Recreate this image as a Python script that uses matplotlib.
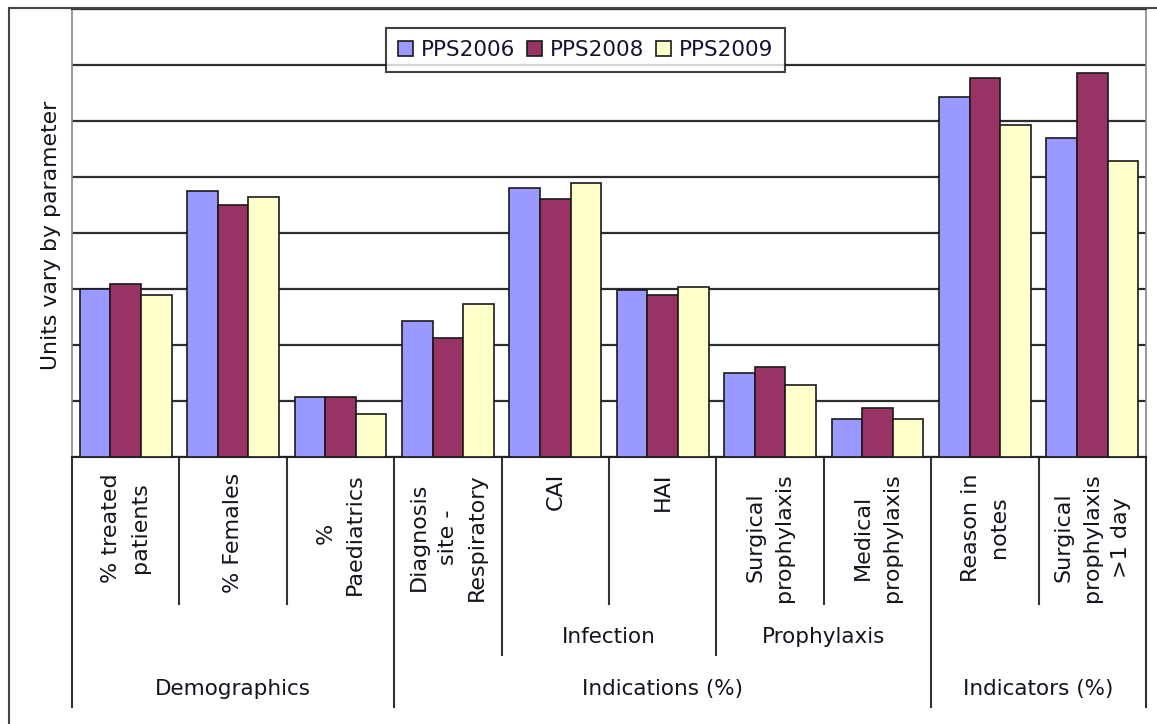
import matplotlib
matplotlib.use("Agg")
import matplotlib.pyplot as plt
import matplotlib.transforms as mtransforms
import numpy as np

plt.rcParams['font.family'] = ['DejaVu Sans']

# ---- data ----
categories = ["% treated\npatients", "% Females", "%\nPaediatrics",
              "Diagnosis\nsite -\nRespiratory", "CAI", "HAI",
              "Surgical\nprophylaxis", "Medical\nprophylaxis",
              "Reason in\nnotes", "Surgical\nprophylaxis\n>1 day"]
series_names = ["PPS2006", "PPS2008", "PPS2009"]
pps2006 = [3.00, 4.75, 1.07, 2.42, 4.81, 2.99, 1.50, 0.68, 6.42, 5.69]
pps2008 = [3.09, 4.50, 1.07, 2.13, 4.60, 2.90, 1.61, 0.88, 6.76, 6.86]
pps2009 = [2.89, 4.65, 0.76, 2.74, 4.90, 3.04, 1.29, 0.68, 5.92, 5.28]
# second level groups: (label, first index, last index)
level2 = [("Infection", 4, 5), ("Prophylaxis", 6, 7)]
level3 = [("Demographics", 0, 2), ("Indications (%)", 3, 7), ("Indicators (%)", 8, 9)]
ylabel = "Units vary by parameter"

colors = ["#9999FF", "#993366", "#FFFFCC"]
text_color = "#14141e"

W, H = 1157, 724
fig = plt.figure(figsize=(W / 100, H / 100), dpi=100)
fig.patch.set_facecolor("white")

x0, x1, ytop, ybase = 72, 1146, 9, 457
ax = fig.add_axes([x0 / W, 1 - ybase / H, (x1 - x0) / W, (ybase - ytop) / H])

n = len(categories)
x = np.arange(n) + 0.5
bw = 0.285
for k, (vals, name) in enumerate(zip([pps2006, pps2008, pps2009], series_names)):
    ax.bar(x + (k - 1) * bw, vals, width=bw, color=colors[k], edgecolor="#1a1a1a",
           linewidth=1.2, label=name, zorder=3)

ax.set_xlim(0, n)
ax.set_ylim(0, 8)
ax.set_yticks(np.arange(0, 9))
ax.set_yticklabels([])
ax.tick_params(axis="y", length=0)
ax.set_xticks([])
ax.yaxis.grid(True, color="#2e2e2e", linewidth=1.6, zorder=0)
ax.set_axisbelow(True)
for s in ["left", "right"]:
    ax.spines[s].set_color("#888888")
    ax.spines[s].set_linewidth(1.2)
ax.spines["top"].set_color("#333333")
ax.spines["top"].set_linewidth(1.5)
ax.spines["bottom"].set_color("#222222")
ax.spines["bottom"].set_linewidth(1.5)

# outer frame
fig.add_artist(plt.Line2D([9 / W, 9 / W], [0, 1 - 8 / H], transform=fig.transFigure,
                          color="#444444", linewidth=1.5))
fig.add_artist(plt.Line2D([9 / W, 1], [1 - 8 / H, 1 - 8 / H], transform=fig.transFigure,
                          color="#444444", linewidth=1.5))

fig.text(51 / W, 1 - 235 / H, ylabel, rotation=90, ha="center", va="center",
         fontsize=15.8, color=text_color)

# hierarchical axis
tr = mtransforms.blended_transform_factory(ax.transData, fig.transFigure)
def fy(p):
    return 1 - p / H

y_short, y_mid, y_long = 604, 655, 707
level2_bounds = {b for _, a, e in level2 for b in (a, e + 1)}
level3_bounds = {b for _, a, e in level3 for b in (a, e + 1)}
for b in range(n + 1):
    if b in level3_bounds:
        yl = y_long
    elif b in level2_bounds:
        yl = y_mid
    else:
        yl = y_short
    ax.plot([b, b], [fy(ybase), fy(yl)], transform=tr, color="#333333",
            linewidth=1.5, clip_on=False)

for xi, lab in zip(x, categories):
    ax.text(xi, fy(473), lab, transform=tr, rotation=90, ha="center", va="top",
            multialignment="center", fontsize=16, color=text_color, linespacing=1.55)

for lab, a, e in level2:
    ax.text((a + e + 1) / 2, fy(637), lab, transform=tr, ha="center", va="center",
            fontsize=15.5, color=text_color)
for lab, a, e in level3:
    ax.text((a + e + 1) / 2, fy(689), lab, transform=tr, ha="center", va="center",
            fontsize=15.5, color=text_color)

leg = ax.legend(loc="center", bbox_to_anchor=(585.5 / W, fy(50)),
                bbox_transform=fig.transFigure, ncol=3, frameon=True, fancybox=False,
                edgecolor="#111111", fontsize=15.5, handlelength=0.7, handleheight=0.7,
                handletextpad=0.37, columnspacing=0.55, borderpad=0.55, borderaxespad=0)
leg.get_frame().set_linewidth(1.5)
for t in leg.get_texts():
    t.set_color("#141432")

fig.savefig("out.png", dpi=100, facecolor="white")
